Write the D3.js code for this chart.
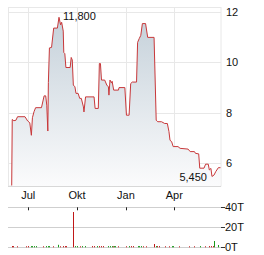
<!DOCTYPE html>
<html>
<head>
<meta charset="utf-8">
<script src="https://cdn.jsdelivr.net/npm/d3@7"></script>
<style>
  body { margin: 0; background: #fff; }
  svg { display: block; font-family: "Liberation Sans", Arial, sans-serif; }
  .lbl { font-size: 11px; fill: #111; }
</style>
</head>
<body>
<div id="chart"></div>
<script>
// price series (closing values)
var priceDates = ["2023-05-31","2023-06-01","2023-06-04","2023-06-08","2023-06-11","2023-06-25","2023-06-30",
  "2023-07-04","2023-07-07","2023-07-09","2023-07-12","2023-07-15","2023-07-26","2023-07-31","2023-08-03",
  "2023-08-05","2023-08-07","2023-08-08","2023-08-10","2023-08-14","2023-08-18","2023-08-25","2023-08-28",
  "2023-08-31","2023-09-02","2023-09-05","2023-09-06","2023-09-08","2023-09-10","2023-09-18","2023-09-20",
  "2023-09-22","2023-09-24","2023-09-27","2023-09-29","2023-10-03","2023-10-06","2023-10-09","2023-10-13",
  "2023-10-14","2023-10-17","2023-11-02","2023-11-04","2023-11-10","2023-11-12","2023-11-14","2023-11-16",
  "2023-11-22","2023-11-26","2023-11-29","2023-11-30","2023-12-02","2023-12-05","2023-12-06","2023-12-09",
  "2023-12-18","2023-12-19","2023-12-30","2024-01-02","2024-01-07","2024-01-10","2024-01-13","2024-01-21",
  "2024-01-23","2024-01-26","2024-01-29","2024-02-01","2024-02-07","2024-02-11","2024-02-23","2024-02-27",
  "2024-03-01","2024-03-08","2024-03-14","2024-03-19","2024-03-22","2024-03-24","2024-03-27","2024-03-30",
  "2024-04-08","2024-04-12","2024-04-27","2024-05-01","2024-05-09","2024-05-11","2024-05-17","2024-05-19",
  "2024-05-27","2024-05-30","2024-06-04","2024-06-06","2024-06-09","2024-06-11","2024-06-15","2024-06-18",
  "2024-06-23","2024-06-27"];
var priceValues = [5.1,7.73,7.68,7.7,7.84,7.84,7.67,
  7.6,7.1,7.8,8.04,8.2,8.2,8.67,8.67,
  8.3,7.27,9.2,10.58,10.6,11.37,11.37,11.8,
  11.5,11.6,11.25,10.4,10.35,9.8,9.8,10.2,
  10.1,9.1,9.03,8.77,8.77,8.57,8.57,8.23,
  8.03,8.63,8.63,8.17,8.17,9.96,9.96,9.3,
  9.3,9.1,9.03,8.7,9.3,9.18,9.25,8.9,
  8.9,9.0,9.0,7.9,7.9,9.16,9.22,9.22,
  10.8,10.95,11.08,11.55,11.55,11.0,11.0,7.7,
  7.64,7.64,7.57,7.57,7.25,6.9,6.85,6.65,
  6.65,6.58,6.55,6.45,6.45,6.38,6.36,5.79,
  5.79,5.95,5.95,5.72,5.78,5.46,5.52,5.65,
  5.81,5.81];

// volume (thousands), direction: 1 = up day, 0 = down day
var volDates = ["2023-06-01","2023-06-03","2023-06-10","2023-06-27","2023-06-30","2023-07-06","2023-07-09",
  "2023-07-12","2023-07-15","2023-07-29","2023-08-03","2023-08-07","2023-08-10","2023-08-17","2023-08-27",
  "2023-08-30","2023-09-05","2023-09-08","2023-09-11","2023-09-24","2023-09-27","2023-09-30","2023-10-06",
  "2023-10-11","2023-10-16","2023-10-30","2023-11-02","2023-11-07","2023-11-12","2023-11-15","2023-11-19",
  "2023-11-29","2023-12-02","2023-12-06","2023-12-07","2023-12-09","2023-12-11","2023-12-18","2024-01-02",
  "2024-01-07","2024-01-10","2024-01-14","2024-01-23","2024-01-26","2024-01-29","2024-02-03","2024-02-08",
  "2024-02-23","2024-02-26","2024-02-29","2024-03-03","2024-03-14","2024-03-22","2024-03-28","2024-03-30",
  "2024-04-10","2024-04-29","2024-05-09","2024-05-19","2024-05-29","2024-06-06","2024-06-09","2024-06-12",
  "2024-06-15","2024-06-23"];
var volValues = [1.3,1.2,1,1,1.2,1.2,1.2,
  1.2,1.2,1,1.2,1.2,1.2,1,2.5,
  1,1.2,1.2,1.2,35.3,1.2,1.2,1,
  1.2,1.2,1.2,1.2,1.2,1.2,1.2,1.2,
  1.2,1.2,1.2,1,1.2,1.2,1,1,
  1.2,1.2,1.2,1.2,1.2,1.2,1,1,
  3.3,1.2,1.2,1.2,1,1,1.2,1.2,
  1,1,1,1.2,1,1.2,1.2,1.2,
  6.3,2.3];
var volUp = [0,0,0,0,0,1,1,
  1,1,0,1,1,1,0,1,
  0,0,0,0,0,1,1,0,
  1,1,0,0,1,0,0,0,
  1,1,1,0,1,1,0,0,
  1,0,0,1,1,1,0,0,
  0,1,0,0,0,0,1,1,
  0,0,0,1,0,0,0,0,
  1,1];

var priceTicks = [6, 8, 10, 12];
var volTicks = [0, 20, 40];
var volTickLabels = ["0T", "20T", "40T"];
var monthTicks = ["2023-07-01", "2023-10-01", "2024-01-01", "2024-04-01"];
var monthLabels = ["Jul", "Okt", "Jan", "Apr"];
var hiLabel = {date: "2023-08-28", value: 11.8, text: "11,800"};
var loLabel = {date: "2024-06-11", value: 5.45, text: "5,450"};

var parse = d3.timeParse("%Y-%m-%d");
var W = 264, H = 255;

var x = d3.scaleTime()
    .domain([parse("2023-05-24"), parse("2024-06-28")])
    .range([8, 221]);
var y = d3.scaleLinear().domain([5.08, 12.21]).range([186, 7]);
var yv = d3.scaleLinear().domain([0, 40]).range([247.3, 207.3]);

var prices = priceDates.map(function(d, i) { return {date: parse(d), value: priceValues[i]}; });
var vols = volDates.map(function(d, i) { return {date: parse(d), value: volValues[i], up: volUp[i]}; });

var svg = d3.select("#chart").append("svg")
    .attr("width", W)
    .attr("height", H);

// gradient for the area
var grad = svg.append("defs").append("linearGradient")
    .attr("id", "fill").attr("x1", 0).attr("y1", 0).attr("x2", 0).attr("y2", 1);
grad.append("stop").attr("offset", "0%").attr("stop-color", "#c5d1da");
grad.append("stop").attr("offset", "100%").attr("stop-color", "#fbfbfc");

// price grid
svg.append("rect")
    .attr("x", 8.5).attr("y", 7.5).attr("width", 212.5).attr("height", 178.5)
    .attr("fill", "none").attr("stroke", "#e8e8e8");
svg.selectAll(".hg").data(priceTicks).enter().append("line")
    .attr("x1", 8).attr("x2", 221)
    .attr("y1", function(d) { return Math.round(y(d)) + 0.5; })
    .attr("y2", function(d) { return Math.round(y(d)) + 0.5; })
    .attr("stroke", "#e8e8e8");
svg.selectAll(".vg").data(monthTicks).enter().append("line")
    .attr("x1", function(d) { return Math.round(x(parse(d))) + 0.5; })
    .attr("x2", function(d) { return Math.round(x(parse(d))) + 0.5; })
    .attr("y1", 7).attr("y2", 186)
    .attr("stroke", "#e8e8e8");

// area + line
var area = d3.area()
    .x(function(d) { return x(d.date); })
    .y0(186)
    .y1(function(d) { return y(d.value); });
var line = d3.line()
    .x(function(d) { return x(d.date); })
    .y(function(d) { return y(d.value); });

svg.append("path").datum(prices)
    .attr("d", area)
    .attr("fill", "url(#fill)");
svg.append("path").datum(prices)
    .attr("d", line)
    .attr("fill", "none")
    .attr("stroke", "#c8383a")
    .attr("stroke-width", 1);

// bottom axis line
svg.append("line")
    .attr("x1", 8).attr("x2", 221).attr("y1", 186.5).attr("y2", 186.5)
    .attr("stroke", "#d8d8d8");

// price labels
svg.selectAll(".pl").data(priceTicks).enter().append("text")
    .attr("class", "lbl")
    .attr("x", 226)
    .attr("y", function(d) { return y(d) + 4; })
    .text(function(d) { return d; });

// month labels
svg.selectAll(".ml").data(monthTicks).enter().append("text")
    .attr("class", "lbl")
    .attr("text-anchor", "middle")
    .attr("x", function(d) { return x(parse(d)); })
    .attr("y", 199)
    .text(function(d, i) { return monthLabels[i]; });

// hi / lo annotations
svg.append("text").attr("class", "lbl")
    .attr("x", x(parse(hiLabel.date)) + 4)
    .attr("y", y(hiLabel.value) + 3)
    .text(hiLabel.text);
svg.append("text").attr("class", "lbl")
    .attr("text-anchor", "end")
    .attr("x", x(parse(loLabel.date)) - 5)
    .attr("y", y(loLabel.value) + 4)
    .text(loLabel.text);

// volume grid
svg.selectAll(".vgl").data(volTicks).enter().append("line")
    .attr("x1", 8).attr("x2", 221)
    .attr("y1", function(d) { return Math.round(yv(d)) + 0.5; })
    .attr("y2", function(d) { return Math.round(yv(d)) + 0.5; })
    .attr("stroke", "#cfcfcf");
svg.selectAll(".vtk").data(monthTicks).enter().append("line")
    .attr("x1", function(d) { return Math.round(x(parse(d))) + 0.5; })
    .attr("x2", function(d) { return Math.round(x(parse(d))) + 0.5; })
    .attr("y1", yv(40)).attr("y2", yv(40) + 3)
    .attr("stroke", "#222");

// volume bars
svg.selectAll(".vb").data(vols).enter().append("rect")
    .attr("x", function(d) { return Math.round(x(d.date)); })
    .attr("width", 1)
    .attr("y", function(d) { return yv(d.value); })
    .attr("height", function(d) { return yv(0) - yv(d.value); })
    .attr("fill", function(d) { return d.up ? "#1a9a1a" : "#c01818"; });

// volume labels with tick dash
svg.selectAll(".vtd").data(volTicks).enter().append("line")
    .attr("x1", 221).attr("x2", 225)
    .attr("y1", function(d) { return Math.round(yv(d)) + 0.5; })
    .attr("y2", function(d) { return Math.round(yv(d)) + 0.5; })
    .attr("stroke", "#333");
svg.selectAll(".vl").data(volTicks).enter().append("text")
    .attr("class", "lbl")
    .attr("x", 225)
    .attr("y", function(d) { return yv(d) + 4; })
    .text(function(d, i) { return volTickLabels[i]; });
</script>
</body>
</html>
